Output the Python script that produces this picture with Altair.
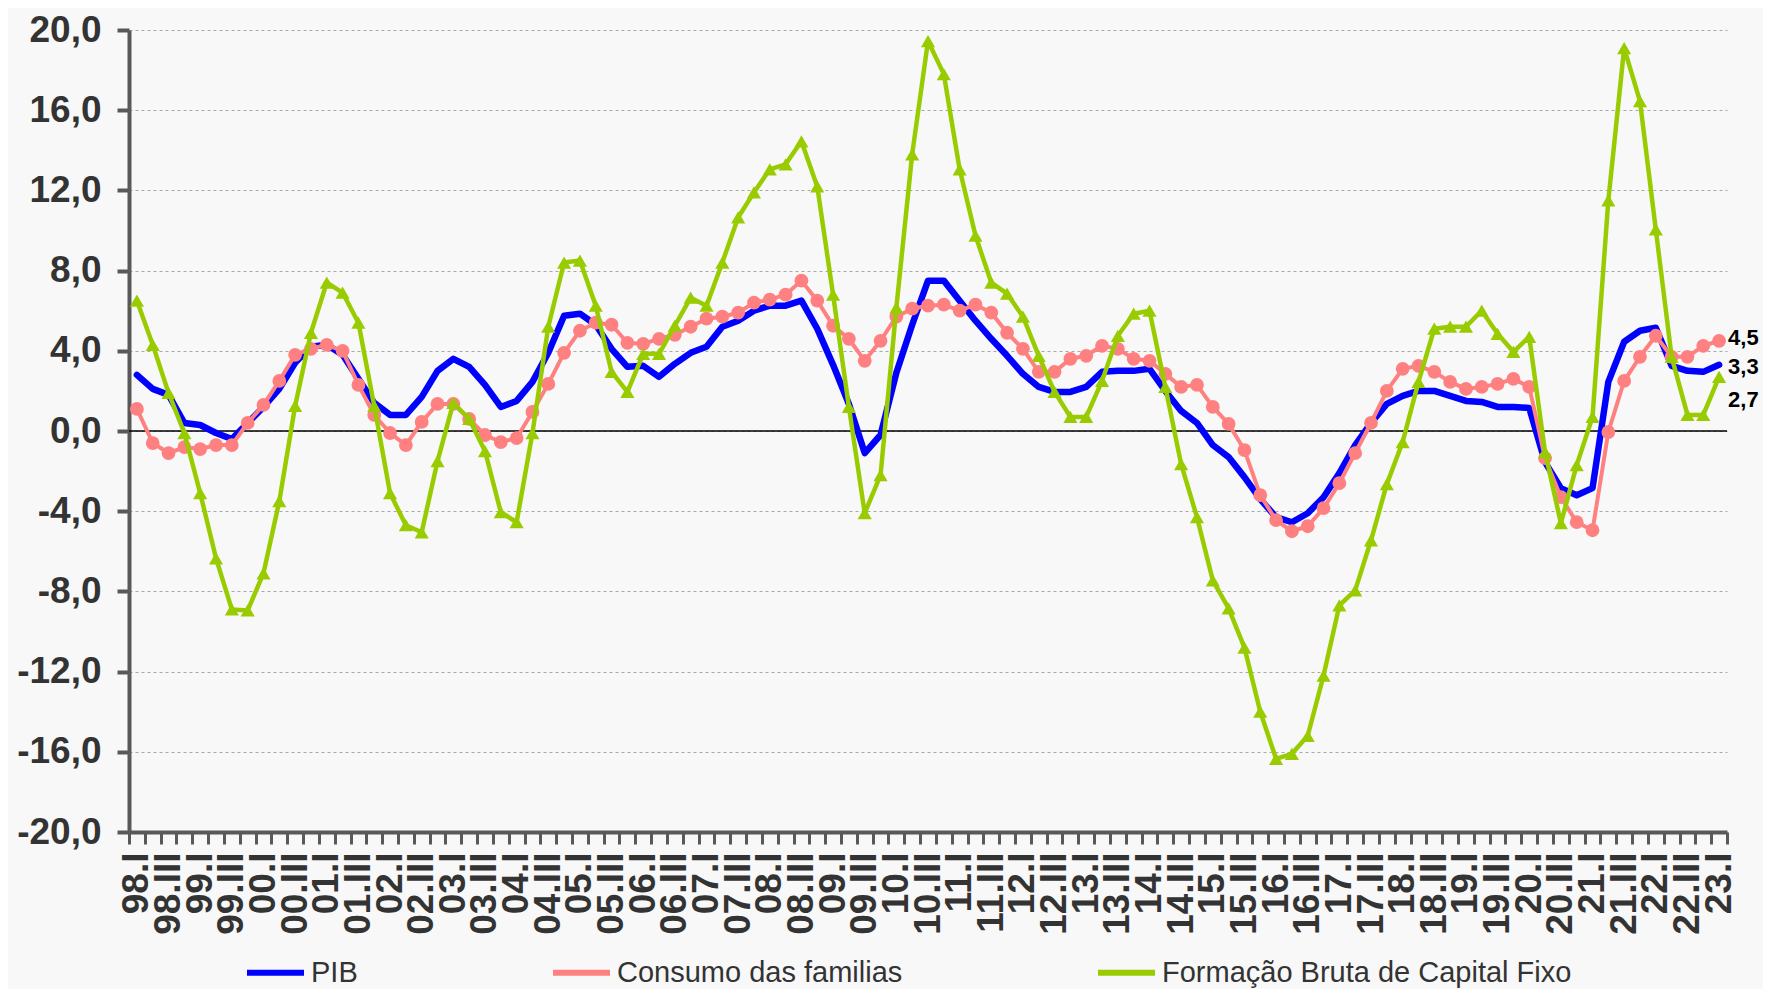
import json
import altair as alt
import pandas as pd

# Categorias: trimestres de 98.I a 23.I
romanos = ["I", "II", "III", "IV"]
trimestres = [f"{(98 + k // 4) % 100:02d}.{romanos[k % 4]}" for k in range(101)]
rotulos_eixo = trimestres[::2]

nomes = ["PIB", "Consumo das familias", "Formação Bruta de Capital Fixo"]
cores = ["#0000FF", "#FF8080", "#99CC00"]

pib = [2.8, 2.1, 1.8, 0.4, 0.3, -0.1, -0.4, 0.4, 1.2, 2.1,
       3.4, 4.2, 4.3, 3.8, 2.6, 1.4, 0.8, 0.8, 1.7, 3.0,
       3.6, 3.2, 2.3, 1.2, 1.5, 2.45, 3.9, 5.75, 5.85, 5.3,
       4.1, 3.2, 3.25, 2.7, 3.35, 3.9, 4.2, 5.2, 5.5, 6.0,
       6.25, 6.25, 6.5, 5.1, 3.3, 1.35, -1.1, -0.2, 2.9, 5.3,
       7.5, 7.5, 6.5, 5.5, 4.6, 3.75, 2.85, 2.2, 1.95, 1.95,
       2.2, 2.95, 3.0, 3.0, 3.1, 2.0, 1.0, 0.4, -0.7, -1.3,
       -2.3, -3.4, -4.3, -4.55, -4.1, -3.3, -2.1, -0.7, 0.4, 1.35,
       1.75, 2.0, 2.0, 1.75, 1.5, 1.45, 1.2, 1.2, 1.15, -1.55,
       -2.85, -3.2, -2.85, 2.45, 4.45, 5.0, 5.15, 3.25, 3.0, 2.95,
       3.3]

consumo = [1.1, -0.6, -1.1, -0.8, -0.9, -0.7, -0.7, 0.4, 1.3, 2.5,
           3.8, 4.1, 4.3, 4.0, 2.3, 0.8, -0.1, -0.7, 0.45, 1.35,
           1.35, 0.6, -0.2, -0.55, -0.35, 0.95, 2.35, 3.9, 5.0, 5.4,
           5.3, 4.4, 4.35, 4.6, 4.8, 5.2, 5.6, 5.7, 5.9, 6.4,
           6.55, 6.8, 7.5, 6.5, 5.25, 4.6, 3.5, 4.5, 5.7, 6.1,
           6.25, 6.3, 6.0, 6.3, 5.9, 4.9, 4.1, 2.95, 2.95, 3.6,
           3.75, 4.25, 4.1, 3.6, 3.5, 2.85, 2.2, 2.3, 1.2, 0.35,
           -0.95, -3.2, -4.45, -5.0, -4.75, -3.85, -2.6, -1.1, 0.4, 2.0,
           3.1, 3.25, 2.95, 2.45, 2.1, 2.2, 2.35, 2.6, 2.2, -1.35,
           -3.3, -4.55, -4.95, -0.05, 2.5, 3.7, 4.75, 3.7, 3.7, 4.25,
           4.5]

fbcf = [6.5, 4.3, 1.9, -0.1, -3.1, -6.35, -8.9, -8.95, -7.1, -3.5,
        1.25, 4.9, 7.4, 6.9, 5.4, 1.25, -3.1, -4.7, -5.05, -1.5,
        1.4, 0.6, -1.0, -4.05, -4.55, -0.1, 5.2, 8.4, 8.5, 6.25,
        2.95, 1.95, 3.85, 3.85, 5.25, 6.65, 6.25, 8.4, 10.65, 11.9,
        13.05, 13.3, 14.45, 12.2, 6.8, 1.2, -4.1, -2.2, 6.15, 13.8,
        19.45, 17.8, 13.05, 9.75, 7.4, 6.85, 5.7, 3.75, 1.95, 0.7,
        0.7, 2.5, 4.75, 5.85, 6.0, 2.2, -1.65, -4.3, -7.45, -8.85,
        -10.8, -14.0, -16.35, -16.1, -15.2, -12.2, -8.7, -7.95, -5.45, -2.65,
        -0.55, 2.45, 5.1, 5.2, 5.2, 6.0, 4.85, 3.95, 4.7, -1.05,
        -4.6, -1.7, 0.7, 11.5, 19.1, 16.45, 10.05, 3.7, 0.8, 0.8,
        2.7]

series = [pib, consumo, fbcf]

df = pd.DataFrame({
    "trimestre": trimestres * 3,
    "serie": [n for n in nomes for _ in trimestres],
    "valor": pib + consumo + fbcf,
})

FONT = "Liberation Sans"
AXIS_GRAY = "#595959"
TEXT_GRAY = "#333333"
BG = "#f8f8f8"

label_expr_x = ("indexof(" + json.dumps(rotulos_eixo, ensure_ascii=False)
                + ", datum.value) >= 0 ? datum.value : ''")
label_expr_y = "replace(replace(format(datum.value, '.1f'), '.', ','), '\u2212', '-')"

x_enc = alt.X(
    "trimestre:O",
    sort=trimestres,
    scale=alt.Scale(type="band", domain=trimestres, paddingInner=0, paddingOuter=0),
    axis=alt.Axis(
        title=None, labelAngle=270, labelFontSize=37, labelFontWeight="bold",
        labelColor=TEXT_GRAY, labelFont=FONT, labelPadding=8, labelOverlap=False,
        labelExpr=label_expr_x, tickBand="extent", tickSize=12, tickWidth=3,
        tickColor=AXIS_GRAY, domainColor=AXIS_GRAY, domainWidth=4, grid=False,
    ),
)
y_enc = alt.Y(
    "valor:Q",
    scale=alt.Scale(domain=[-20, 20], nice=False, zero=False),
    axis=alt.Axis(
        title=None, values=list(range(-20, 21, 4)), labelExpr=label_expr_y,
        labelFontSize=37, labelFontWeight="bold", labelColor=TEXT_GRAY, labelFont=FONT,
        labelPadding=16, tickSize=12, tickWidth=4, tickColor=AXIS_GRAY,
        domainColor=AXIS_GRAY, domainWidth=4, grid=True, gridDash=[3, 3],
        gridColor="#a8a8a8", gridWidth=1,
    ),
)
legend = alt.Legend(
    title=None, orient="none", legendX=115, legendY=911, direction="horizontal",
    columns=3, columnPadding=183, labelFontSize=29, labelFont=FONT,
    labelColor=TEXT_GRAY, labelLimit=800, symbolType="stroke", symbolSize=3249,
    symbolStrokeWidth=6, labelOffset=4,
)
color_enc = alt.Color("serie:N", scale=alt.Scale(domain=nomes, range=cores), legend=legend)

base = alt.Chart(df)

zero = alt.Chart(pd.DataFrame({"z": [0]})).mark_rule(color="black", strokeWidth=1.6).encode(
    y=alt.Y("z:Q", scale=alt.Scale(domain=[-20, 20], nice=False))
)

larguras = [6.5, 4, 4.5]
layers = [zero]
for nome, w in zip(nomes, larguras):
    layers.append(
        base.transform_filter(alt.datum.serie == nome)
        .mark_line(strokeWidth=w, strokeCap="round", strokeJoin="round")
        .encode(x=x_enc, y=y_enc, color=color_enc)
    )
    if nome == nomes[1]:
        layers.append(
            base.transform_filter(alt.datum.serie == nome)
            .mark_point(filled=True, shape="circle", size=190, color=cores[1], opacity=1)
            .encode(x=x_enc, y=y_enc)
        )
    if nome == nomes[2]:
        layers.append(
            base.transform_filter(alt.datum.serie == nome)
            .mark_point(filled=True, shape="triangle-up", size=200, color=cores[2], opacity=1)
            .encode(x=x_enc, y=y_enc)
        )

# End labels
fim = pd.DataFrame({
    "trimestre": [trimestres[-1]] * 3,
    "serie": nomes,
    "valor": [s[-1] for s in series],
    "texto": [f"{s[-1]:.1f}".replace(".", ",") for s in series],
})
desloc = {"PIB": 2, "Consumo das familias": -3, "Formação Bruta de Capital Fixo": 23}
for nome in nomes:
    layers.append(
        alt.Chart(fim).transform_filter(alt.datum.serie == nome)
        .mark_text(align="left", baseline="middle", dx=9, dy=desloc[nome], fontSize=22,
                   fontWeight="bold", font=FONT, color="black")
        .encode(x=x_enc, y=y_enc, text="texto:N")
    )

chart = alt.layer(*layers).properties(
    width=1598, height=802,
    autosize=alt.AutoSizeParams(type="none"),
    padding={"left": 121, "top": 22, "right": 36, "bottom": 157},
    background=BG,
).configure_view(stroke=None, fill=BG)

chart.save("out.html", embed_options={"renderer": "svg", "actions": False})
